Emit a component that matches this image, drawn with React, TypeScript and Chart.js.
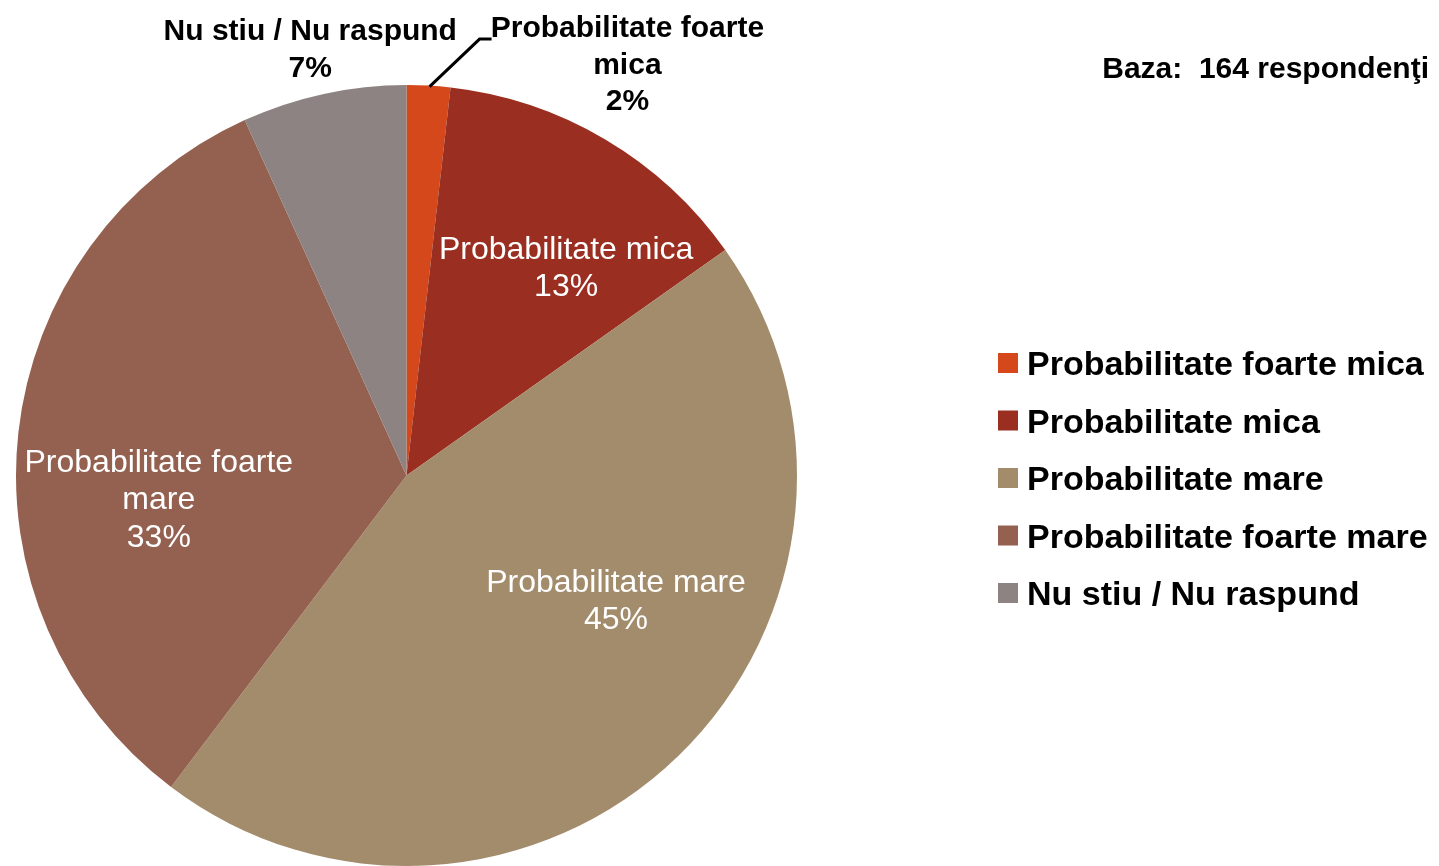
import React, { useEffect, useRef } from "react";
import { Chart, registerables } from "chart.js";

Chart.register(...registerables);

const categories = [
  "Probabilitate foarte mica",
  "Probabilitate mica",
  "Probabilitate mare",
  "Probabilitate foarte mare",
  "Nu stiu / Nu raspund",
];
const values = [1.8, 13.4, 45.1, 32.9, 6.8];
const colors = ["#D4481B", "#9A2E20", "#A38C6C", "#946150", "#8D8382"];
const labelLines = [
  ["Probabilitate foarte", "mica"],
  ["Probabilitate mica"],
  ["Probabilitate mare"],
  ["Probabilitate foarte", "mare"],
  ["Nu stiu / Nu raspund"],
];
const baseText = "Baza:  164 respondenţi";

// label placement: angle offset from slice middle (deg), radius fraction, inside/outside
const labelLayout = [
  { dAngle: 24.96, rFrac: 1.197, outside: true },
  { dAngle: 6.8, rFrac: 0.673, outside: false },
  { dAngle: -15.2, rFrac: 0.624, outside: false },
  { dAngle: -11.6, rFrac: 0.637, outside: false },
  { dAngle: -0.46, rFrac: 1.121, outside: true },
];

const labelPlugin = {
  id: "customLabels",
  afterDraw(chart: any) {
    const ctx = chart.ctx;
    const meta = chart.getDatasetMeta(0);
    const total = values.reduce((a, b) => a + b, 0);
    ctx.save();
    meta.data.forEach((arc: any, i: number) => {
      const p = arc.getProps(["x", "y", "startAngle", "endAngle", "outerRadius"], true);
      const lay = labelLayout[i];
      const mid = (p.startAngle + p.endAngle) / 2 + (lay.dAngle * Math.PI) / 180;
      const r = p.outerRadius * lay.rFrac;
      const cx = p.x + Math.cos(mid) * r;
      const cy = p.y + Math.sin(mid) * r + 2;
      const pct = Math.round((values[i] / total) * 100) + "%";
      const lines = [...labelLines[i], pct];
      const lh = lay.outside ? 36.5 : 37.5;
      ctx.fillStyle = lay.outside ? "#000" : "#fff";
      ctx.font = lay.outside ? "bold 30px 'Liberation Sans', Arial, sans-serif" : "32px 'Liberation Sans', Arial, sans-serif";
      ctx.textAlign = "center";
      ctx.textBaseline = "middle";
      const y0 = cy - ((lines.length - 1) * lh) / 2;
      lines.forEach((t, k) => ctx.fillText(t, cx, y0 + k * lh));
      if (i === 0) {
        // leader line from slice edge to label
        const a = (p.startAngle + p.endAngle) / 2;
        const ex = p.x + Math.cos(a) * p.outerRadius;
        const ey = p.y + Math.sin(a) * p.outerRadius;
        const ty = y0 + 10;
        ctx.strokeStyle = "#000";
        ctx.lineWidth = 3;
        ctx.beginPath();
        ctx.moveTo(ex + 1, ey + 1);
        ctx.lineTo(ex + 51, ty);
        ctx.lineTo(ex + 63, ty);
        ctx.stroke();
      }
    });
    // legend
    const lx = 998;
    const ly0 = 363;
    const step = 57.5;
    ctx.textAlign = "left";
    ctx.textBaseline = "alphabetic";
    ctx.font = "bold 34px 'Liberation Sans', Arial, sans-serif";
    categories.forEach((c, i) => {
      const y = ly0 + i * step;
      ctx.fillStyle = colors[i];
      ctx.fillRect(lx, y - 10, 20, 20);
      ctx.fillStyle = "#000";
      ctx.fillText(c, lx + 29, y + 12);
    });
    // base text
    ctx.font = "bold 30px 'Liberation Sans', Arial, sans-serif";
    ctx.textAlign = "right";
    ctx.fillText(baseText, 1429, 78);
    ctx.restore();
  },
};

export default function App() {
  const ref = useRef<HTMLCanvasElement>(null);
  useEffect(() => {
    if (!ref.current) return;
    const chart = new Chart(ref.current, {
      type: "pie",
      data: {
        labels: categories,
        datasets: [
          {
            data: values,
            backgroundColor: colors,
            borderWidth: 0,
          },
        ],
      },
      options: {
        animation: false,
        responsive: true,
        maintainAspectRatio: false,
        layout: { padding: { left: 16, top: 85, right: 642, bottom: 0 } },
        plugins: {
          legend: { display: false },
          tooltip: { enabled: false },
        },
      },
      plugins: [labelPlugin],
    });
    return () => chart.destroy();
  }, []);
  return (
    <div style={{ position: "absolute", left: 0, top: 0, width: 1439, height: 866, background: "#fff" }}>
      <canvas ref={ref} />
    </div>
  );
}
